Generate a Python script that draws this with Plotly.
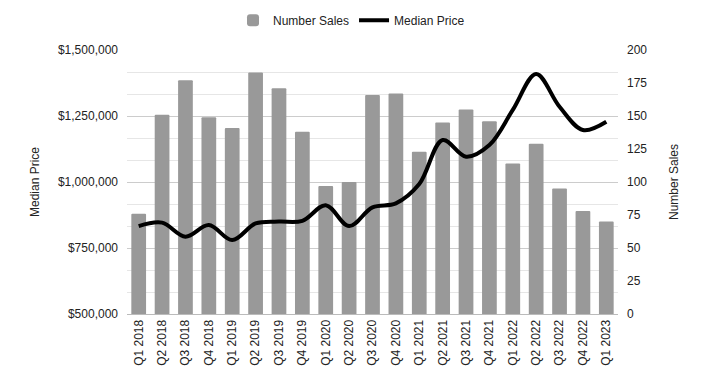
import plotly.graph_objects as go

quarters = ["Q1 2018", "Q2 2018", "Q3 2018", "Q4 2018", "Q1 2019", "Q2 2019", "Q3 2019",
            "Q4 2019", "Q1 2020", "Q2 2020", "Q3 2020", "Q4 2020", "Q1 2021", "Q2 2021",
            "Q3 2021", "Q4 2021", "Q1 2022", "Q2 2022", "Q3 2022", "Q4 2022", "Q1 2023"]
number_sales = [76, 151, 177, 149, 141, 183, 171, 138, 97, 100, 166, 167, 123, 145,
                155, 146, 114, 129, 95, 78, 70]
median_price = [833000, 846000, 793000, 837000, 780000, 843000, 850000, 853000, 912000,
                833000, 904000, 919000, 992000, 1159000, 1096000, 1140000, 1273000,
                1409000, 1285000, 1197000, 1228000]

price_ticks = [500000, 750000, 1000000, 1250000, 1500000]
sales_ticks = [0, 25, 50, 75, 100, 125, 150, 175, 200]

FONT = "Liberation Sans, Arial, sans-serif"

fig = go.Figure()
fig.add_trace(go.Bar(x=quarters, y=number_sales, name="Number Sales",
                     marker=dict(color="#999999", line=dict(width=0)), yaxis="y"))
fig.add_trace(go.Scatter(x=quarters, y=median_price, name="Median Price", mode="lines",
                         line=dict(color="#000000", width=4, shape="spline", smoothing=1.0),
                         yaxis="y2"))

fig.update_layout(
    width=703, height=389,
    margin=dict(l=127, r=85, t=50, b=75, autoexpand=False),
    paper_bgcolor="white", plot_bgcolor="white",
    font=dict(family=FONT, size=12, color="#222222"),
    bargap=0.37,
    barcornerradius=1,
    showlegend=True,
    legend=dict(orientation="h", xref="container", x=0.5, xanchor="center",
                yref="container", y=0.985, yanchor="top",
                font=dict(size=12, color="#222222"), itemwidth=30),
    xaxis=dict(type="category", tickangle=-90, showgrid=False, showline=True,
               linecolor="#bbbbbb", ticks="", tickfont=dict(size=12), range=[-0.5, 20.5],
               automargin=False),
    yaxis=dict(side="right", range=[0, 200], tickvals=sales_ticks, showgrid=False,
               zeroline=False, ticks="", automargin=False, ticklabelstandoff=8,
               title=dict(text="Number Sales", standoff=23, font=dict(size=12))),
    yaxis2=dict(side="left", overlaying="y", range=[500000, 1500000], tickvals=price_ticks,
                tickformat="$,.0f", showgrid=True, gridcolor="#cccccc", gridwidth=1,
                zeroline=False, ticks="", automargin=False, ticklabelstandoff=8,
                minor=dict(dtick=250000 / 3, tick0=500000, showgrid=True,
                           gridcolor="#e6e6e6", gridwidth=1),
                title=dict(text="Median Price", standoff=15, font=dict(size=12))),
)

fig.write_html("out.html", config={"displayModeBar": False},
               post_script="document.body.style.margin='0';")
